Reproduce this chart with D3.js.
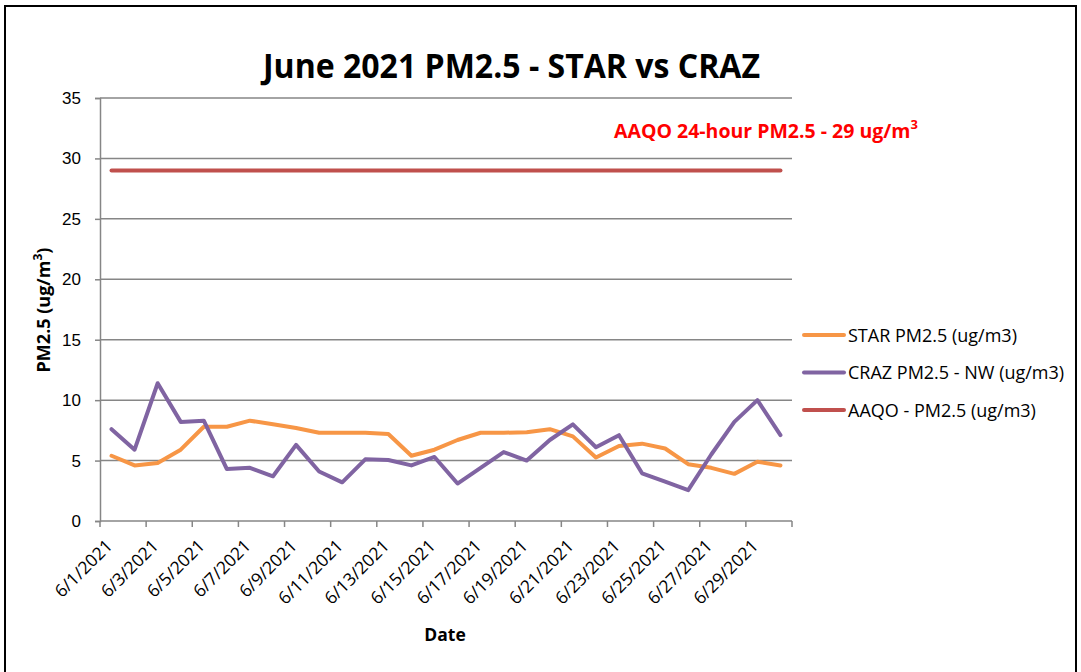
<!DOCTYPE html>
<html lang="en">
<head>
<meta charset="UTF-8">
<title>June 2021 PM2.5 - STAR vs CRAZ</title>
<script src="https://d3js.org/d3.v7.min.js"></script>
<style>
    body { margin: 0; background: #fff; }
    svg { display: block; font-family: "Open Sans", "Noto Sans", sans-serif; }
</style>
</head>
<body>
<svg width="1081" height="672"></svg>
<script>
    // daily values
    const dates = d3.range(1, 31).map(d => `6/${d}/2021`);
    const starValues = [5.4, 4.6, 4.8, 5.9, 7.8, 7.8, 8.3, 8.0, 7.7, 7.3, 7.3, 7.3, 7.2, 5.4, 5.9,
        6.7, 7.3, 7.3, 7.35, 7.6, 7.0, 5.25, 6.2, 6.4, 6.0, 4.7, 4.4, 3.9, 4.9, 4.6];
    const crazValues = [7.6, 5.9, 11.4, 8.2, 8.3, 4.3, 4.4, 3.7, 6.3, 4.1, 3.2, 5.1, 5.05, 4.6, 5.3,
        3.1, 4.4, 5.7, 5.0, 6.7, 8.0, 6.1, 7.1, 3.95, 3.25, 2.55, 5.5, 8.2, 10.0, 7.1];
    const aaqoValues = dates.map(() => 29);
    const yTicks = [0, 5, 10, 15, 20, 25, 30, 35];

    const seriesList = [
        { name: "STAR PM2.5 (ug/m3)", values: starValues, color: "#F79646" },
        { name: "CRAZ PM2.5 - NW (ug/m3)", values: crazValues, color: "#8064A2" },
        { name: "AAQO - PM2.5 (ug/m3)", values: aaqoValues, color: "#C0504D" }
    ];

    const margin = { top: 98, left: 100, right: 289, bottom: 151 };
    const width = 1081 - margin.left - margin.right;
    const height = 672 - margin.top - margin.bottom;

    const svg = d3.select("svg");

    // outer frame
    svg.append("rect")
        .attr("x", 5).attr("y", 6)
        .attr("width", 1071).attr("height", 672)
        .attr("fill", "none")
        .attr("stroke", "#000")
        .attr("stroke-width", 2);

    const g = svg.append("g")
        .attr("transform", `translate(${margin.left},${margin.top})`);

    const x = d3.scaleBand().domain(dates).range([0, width]);
    const y = d3.scaleLinear().domain([0, 35]).range([height, 0]);

    // gridlines
    g.selectAll(".grid")
        .data(yTicks.filter(t => t > 0))
        .join("line")
        .attr("class", "grid")
        .attr("x1", 0).attr("x2", width)
        .attr("y1", d => y(d)).attr("y2", d => y(d))
        .attr("stroke", "#868686")
        .attr("stroke-width", 1.5);

    // y axis
    const yAxis = g.append("g")
        .call(d3.axisLeft(y).tickValues(yTicks).tickSize(5).tickPadding(14));
    yAxis.select(".domain").attr("stroke", "#868686").attr("stroke-width", 1.5);
    yAxis.selectAll(".tick line").attr("stroke", "#868686").attr("stroke-width", 1.5);
    yAxis.selectAll("text")
        .attr("font-size", 17)
        .attr("fill", "#000");

    // x axis: ticks every second category boundary, labels on odd days
    const xAxisG = g.append("g").attr("transform", `translate(0,${height})`);
    xAxisG.append("line")
        .attr("x1", 0).attr("x2", width)
        .attr("stroke", "#868686").attr("stroke-width", 1.5);
    const boundaries = d3.range(0, dates.length + 1, 2);
    xAxisG.selectAll(".xtick")
        .data(boundaries)
        .join("line")
        .attr("class", "xtick")
        .attr("x1", i => i * x.bandwidth()).attr("x2", i => i * x.bandwidth())
        .attr("y1", 0).attr("y2", 6)
        .attr("stroke", "#868686").attr("stroke-width", 1.5);
    xAxisG.selectAll(".xlabel")
        .data(dates.filter((d, i) => i % 2 === 0))
        .join("text")
        .attr("class", "xlabel")
        .attr("transform", d => `translate(${x(d) + x.bandwidth() / 2 + 2},${26}) rotate(-45)`)
        .attr("text-anchor", "end")
        .attr("font-size", 17.5)
        .text(d => d);

    // lines
    const line = d3.line()
        .x((v, i) => x(dates[i]) + x.bandwidth() / 2)
        .y(v => y(v));

    g.selectAll(".series")
        .data(seriesList)
        .join("path")
        .attr("class", "series")
        .attr("d", s => line(s.values))
        .attr("fill", "none")
        .attr("stroke", s => s.color)
        .attr("stroke-width", 4)
        .attr("stroke-linejoin", "round")
        .attr("stroke-linecap", "round");

    // title
    svg.append("text")
        .attr("x", 511.5).attr("y", 78)
        .attr("text-anchor", "middle")
        .attr("font-size", 34)
        .attr("font-weight", "bold")
        .attr("textLength", 497)
        .attr("lengthAdjust", "spacingAndGlyphs")
        .text("June 2021 PM2.5 - STAR vs CRAZ");

    // axis titles
    svg.append("text")
        .attr("transform", "translate(50,310) rotate(-90)")
        .attr("text-anchor", "middle")
        .attr("font-size", 18)
        .attr("font-weight", "bold")
        .html('PM2.5 (ug/m<tspan baseline-shift="super" font-size="12">3</tspan>)');

    svg.append("text")
        .attr("x", 445).attr("y", 641)
        .attr("text-anchor", "middle")
        .attr("font-size", 17.5)
        .attr("font-weight", "bold")
        .text("Date");

    // annotation
    svg.append("text")
        .attr("x", 614).attr("y", 138)
        .attr("font-size", 19.5)
        .attr("font-weight", "bold")
        .attr("fill", "#FF0000")
        .html('AAQO 24-hour PM2.5 - 29 ug/m<tspan baseline-shift="super" font-size="13">3</tspan>');

    // legend
    const legend = svg.append("g").attr("transform", "translate(804,335)");
    const items = legend.selectAll("g")
        .data(seriesList)
        .join("g")
        .attr("transform", (d, i) => `translate(0,${i * 37.5})`);
    items.append("line")
        .attr("x1", 0).attr("x2", 40)
        .attr("stroke", d => d.color)
        .attr("stroke-width", 4)
        .attr("stroke-linecap", "round");
    items.append("text")
        .attr("x", 44).attr("y", 6.5)
        .attr("font-size", 18)
        .text(d => d.name);
</script>
</body>
</html>
